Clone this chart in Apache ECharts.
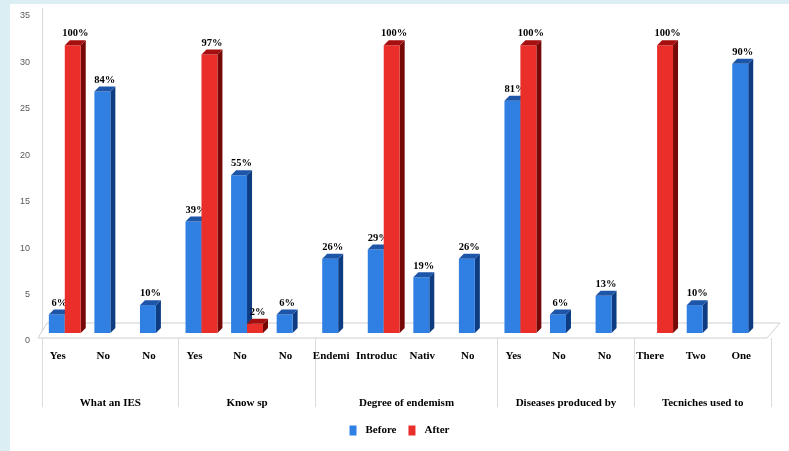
<!DOCTYPE html>
<html>
<head>
<meta charset="utf-8">
<script src="https://cdn.jsdelivr.net/npm/echarts@6/dist/echarts.min.js"></script>
<style>
html, body { margin: 0; padding: 0; width: 789px; height: 451px; overflow: hidden; background: #dbeef4; }
#main { position: absolute; left: 10px; top: 4px; width: 779px; height: 447px; background: #fff; }
</style>
</head>
<body>
<div id="main"></div>
<script>
var categories = ['Yes', 'No', 'No', 'Yes', 'No', 'No', 'Endemi', 'Introduc', 'Nativ', 'No', 'Yes', 'No', 'No', 'There', 'Two', 'One'];
var groupNames = ['What an IES', 'Know sp', 'Degree of endemism', 'Diseases produced by', 'Tecniches used to'];
var groupSizes = [3, 3, 4, 3, 3];
var yTicks = [0, 5, 10, 15, 20, 25, 30, 35];

var beforeValues = [2, 26, 3, 12, 17, 2, 8, 9, 6, 8, 25, 2, 4, null, 3, 29];
var afterValues = [31, null, null, 30, 1, null, null, 31, null, null, 31, null, null, 31, null, null];
var beforeLabels = ['6%', '84%', '10%', '39%', '55%', '6%', '26%', '29%', '19%', '26%', '81%', '6%', '13%', '', '10%', '90%'];
var afterLabels = ['100%', '', '', '97%', '2%', '', '', '100%', '', '', '100%', '', '', '100%', '', ''];

var serif = 'Liberation Serif';

// group edges and centres on a 0..16 scale
var groupEdges = [0];
var groupCenters = [];
groupSizes.forEach(function (n) {
    var start = groupEdges[groupEdges.length - 1];
    groupCenters.push(start + n / 2);
    groupEdges.push(start + n);
});

function barRenderer(labels, side, colors) {
    return function (params, api) {
        var val = api.value(1);
        if (val === null || isNaN(val)) return null;
        var idx = api.value(0);
        var base = api.coord([idx, 0]);
        var top = api.coord([idx, val]);
        var w = api.size([1, 0])[0] * 0.35;
        var d = 5;
        var x = side < 0 ? base[0] - w : base[0];
        var y0 = base[1], y1 = top[1];
        return {
            type: 'group',
            children: [
                { type: 'polygon', shape: { points: [[x + w, y1], [x + w + d, y1 - d], [x + w + d, y0 - d], [x + w, y0]] }, style: { fill: colors.side } },
                { type: 'rect', shape: { x: x, y: y1, width: w, height: y0 - y1 }, style: { fill: colors.front } },
                { type: 'polygon', shape: { points: [[x, y1], [x + d, y1 - d], [x + w + d, y1 - d], [x + w, y1]] }, style: { fill: colors.top } },
                {
                    type: 'text', x: x + (w + d) / 2, y: y1 - d - 1,
                    style: { text: labels[params.dataIndex], align: 'center', verticalAlign: 'bottom', fill: '#000', font: 'bold 10.5px "' + serif + '"' }
                }
            ]
        };
    };
}

var blue = { front: '#2f80e2', side: '#0d3c82', top: '#1d55a8' };
var red = { front: '#ea2f2b', side: '#760808', top: '#a50f0f' };

var chart = echarts.init(document.getElementById('main'));
var option = {
    animation: false,
    grid: { left: 32, right: 18, top: 4, bottom: 118 },
    legend: {
        data: ['Before', 'After'],
        top: 416,
        left: 'center',
        icon: 'rect',
        itemWidth: 7,
        itemHeight: 10,
        itemGap: 12,
        textStyle: { fontFamily: serif, fontWeight: 'bold', fontSize: 11, color: '#000', padding: [0, 0, 0, 4] }
    },
    xAxis: [
        {
            type: 'category',
            data: categories,
            axisLine: { show: false },
            axisTick: { show: false },
            axisLabel: { interval: 0, margin: 18, fontFamily: serif, fontWeight: 'bold', fontSize: 11, color: '#000', padding: [0, 14, 0, 0] }
        },
        {
            type: 'value',
            position: 'bottom',
            min: 0,
            max: 16,
            offset: 5,
            axisLine: { show: false },
            splitLine: { show: false },
            axisTick: { show: true, length: 69, customValues: groupEdges, lineStyle: { color: '#dcdcdc' } },
            axisLabel: {
                customValues: groupCenters,
                margin: 60,
                fontFamily: serif, fontWeight: 'bold', fontSize: 11, color: '#000',
                formatter: function (v) {
                    for (var i = 0; i < groupCenters.length; i++) {
                        if (Math.abs(groupCenters[i] - v) < 0.01) return groupNames[i];
                    }
                    return '';
                }
            }
        }
    ],
    yAxis: {
        type: 'value',
        min: yTicks[0],
        max: yTicks[yTicks.length - 1],
        interval: 5,
        axisLine: { show: true, lineStyle: { color: '#d9d9d9' } },
        axisTick: { show: false },
        splitLine: { show: false },
        axisLabel: { margin: 12, fontFamily: 'Liberation Sans', fontSize: 9, color: '#595959', verticalAlign: 'top', lineHeight: 16 }
    },
    series: [
        {
            name: 'floor',
            type: 'custom',
            silent: true,
            data: [[0, 0]],
            renderItem: function (params, api) {
                var cs = params.coordSys;
                var y = api.coord([0, 0])[1];
                return {
                    type: 'polygon',
                    shape: { points: [[cs.x - 4, y + 5], [cs.x + 5, y - 10], [cs.x + cs.width + 9, y - 10], [cs.x + cs.width - 4, y + 5]] },
                    style: { fill: '#fff', stroke: '#cfcfcf', lineWidth: 1 }
                };
            }
        },
        {
            name: 'Before',
            type: 'custom',
            silent: true,
            itemStyle: { color: blue.front },
            encode: { x: 0, y: 1 },
            data: beforeValues.map(function (v, i) { return [i, v]; }),
            renderItem: barRenderer(beforeLabels, -1, blue)
        },
        {
            name: 'After',
            type: 'custom',
            silent: true,
            itemStyle: { color: red.front },
            encode: { x: 0, y: 1 },
            data: afterValues.map(function (v, i) { return [i, v]; }),
            renderItem: barRenderer(afterLabels, 1, red)
        }
    ]
};
chart.setOption(option);
</script>
</body>
</html>
